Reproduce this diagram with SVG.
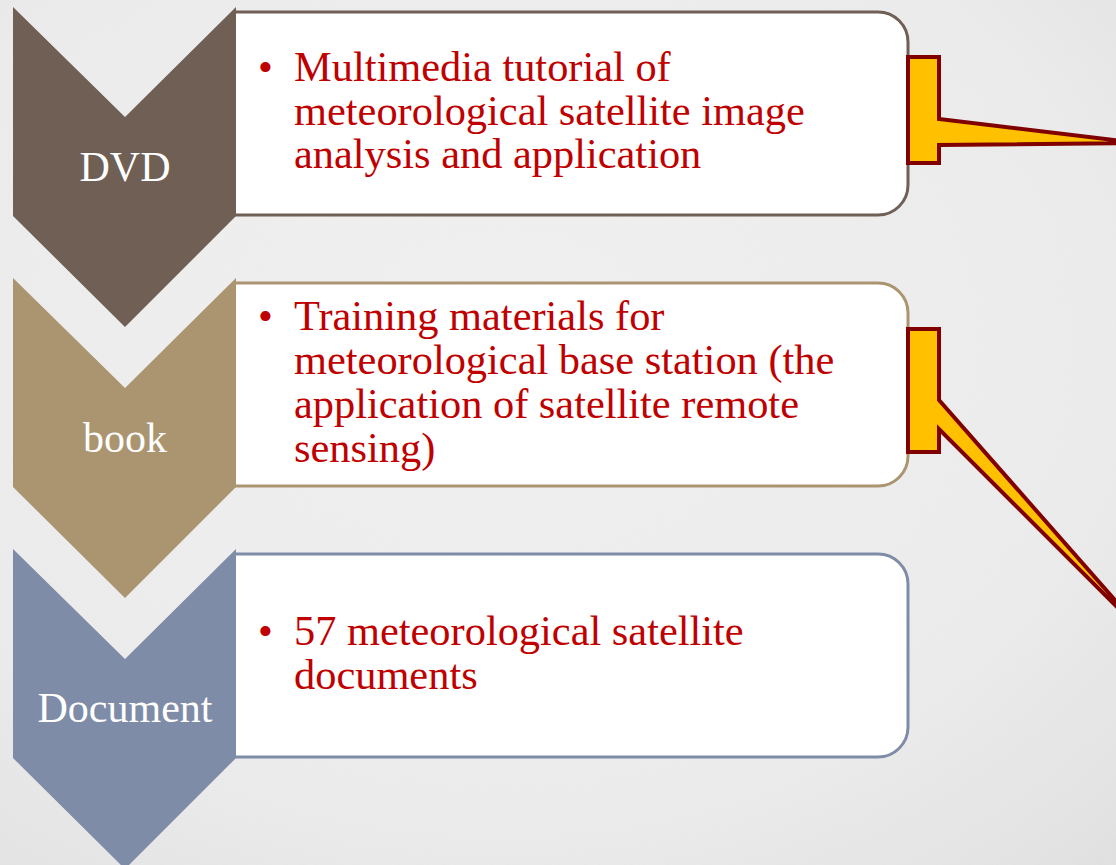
<svg xmlns="http://www.w3.org/2000/svg" width="1116" height="865" viewBox="0 0 1116 865">
  <defs>
    <radialGradient id="bg" cx="0.45" cy="0.4" r="0.8">
      <stop offset="0" stop-color="#F2F2F2"/>
      <stop offset="0.7" stop-color="#ECECEC"/>
      <stop offset="1" stop-color="#E2E2E2"/>
    </radialGradient>
    <filter id="paper" x="0" y="0" width="100%" height="100%">
      <feTurbulence type="fractalNoise" baseFrequency="0.9" numOctaves="2" seed="3" result="n"/>
      <feColorMatrix in="n" type="matrix" values="0 0 0 0 0.5  0 0 0 0 0.5  0 0 0 0 0.5  0 0 0 0.07 0" result="g"/>
      <feComposite in="g" in2="SourceGraphic" operator="over"/>
    </filter>
    <style>
      .fill { fill: #FFFFFF; stroke: none; }
      .edge { fill: none; stroke-width: 3; }
      .lbl { font-family: "Liberation Serif", "Times New Roman", serif; font-size: 42px; fill: #FFFFFF; text-anchor: middle; }
      .txt { font-family: "Liberation Serif", "Times New Roman", serif; font-size: 42.4px; fill: #C00000; }
      .call { fill: #FFC000; stroke: #800000; stroke-width: 4; stroke-linejoin: miter; }
    </style>
  </defs>

  <rect x="0" y="0" width="1116" height="865" fill="url(#bg)" filter="url(#paper)"/>

  <g id="node-dvd">
    <path class="fill" d="M230,12 H878 A30,30 0 0 1 908,42 V185 A30,30 0 0 1 878,215 H230 Z"/>
    <path class="edge" stroke="#6F5F55" d="M234,12 H878 A30,30 0 0 1 908,42 V185 A30,30 0 0 1 878,215 H234"/>
    <path fill="#6F5F55" d="M13,7 L125,117 L236,7 L236,216 L125,327 L13,216 Z"/>
    <text class="lbl" x="125" y="181">DVD</text>
    <text class="txt" x="258" y="81">•</text>
    <text class="txt" x="294" y="81">Multimedia tutorial of</text>
    <text class="txt" x="294" y="124.5">meteorological satellite image</text>
    <text class="txt" x="294" y="168">analysis and application</text>
  </g>

  <g id="node-book">
    <path class="fill" d="M230,283 H878 A30,30 0 0 1 908,313 V456 A30,30 0 0 1 878,486 H230 Z"/>
    <path class="edge" stroke="#AB9470" d="M234,283 H878 A30,30 0 0 1 908,313 V456 A30,30 0 0 1 878,486 H234"/>
    <path fill="#AB9470" d="M13,278 L125,388 L236,278 L236,487 L125,598 L13,487 Z"/>
    <text class="lbl" x="125" y="452">book</text>
    <text class="txt" x="258" y="330">•</text>
    <text class="txt" x="294" y="330">Training materials for</text>
    <text class="txt" x="294" y="374">meteorological base station (the</text>
    <text class="txt" x="294" y="418">application of satellite remote</text>
    <text class="txt" x="294" y="462">sensing)</text>
  </g>

  <g id="node-document">
    <path class="fill" d="M230,554 H878 A30,30 0 0 1 908,584 V727 A30,30 0 0 1 878,757 H230 Z"/>
    <path class="edge" stroke="#7F8CA8" d="M234,554 H878 A30,30 0 0 1 908,584 V727 A30,30 0 0 1 878,757 H234"/>
    <path fill="#7F8CA8" d="M13,549 L125,659 L236,549 L236,758 L125,869 L13,758 Z"/>
    <text class="lbl" x="125" y="722">Document</text>
    <text class="txt" x="258" y="645">•</text>
    <text class="txt" x="294" y="645">57 meteorological satellite</text>
    <text class="txt" x="294" y="689">documents</text>
  </g>

  <g id="connectors">
    <path class="call" d="M908,57 L939,57 L939,119 L1139,143 L939,145 L939,163 L908,163 Z"/>
    <path class="call" d="M908,329 L939,329 L939,400 L1150,640 L939,429 L939,452 L908,452 Z"/>
  </g>
</svg>
